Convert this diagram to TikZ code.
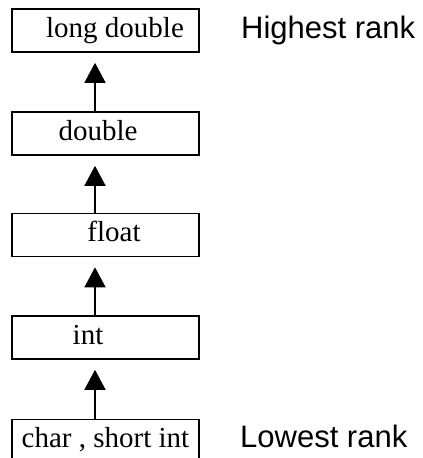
\documentclass[tikz,border=0pt]{standalone}
\usepackage{fontspec}
\setmainfont{Liberation Serif}
\newfontfamily\ranksans{Liberation Sans}
\usepackage{tikz}
\usetikzlibrary{arrows.meta}
\tikzstyle{typebox} = [draw,line width=1.6pt,minimum width=187pt,minimum height=43pt,inner sep=0pt]
\tikzstyle{typename} = [inner sep=0pt,text height=20pt,text depth=7pt,font=\fontsize{29}{34}\selectfont]
\tikzstyle{ranklabel} = [inner sep=0pt,anchor=base west,font=\ranksans\fontsize{31}{36}\selectfont]
\tikzstyle{arrow} = [line width=1.6pt,-{Triangle[width=21pt,length=20pt]}]

\begin{document}
\begin{tikzpicture}[x=1pt,y=-1pt]
\clip (0,0) rectangle (423,458);

\foreach \y/\n/\t/\s in {30.5/ld/long double/9.5, 133.5/db/double/-7.5, 235/fl/float/8.5, 337.5/in/int/-17.5, 441/ch/{char , short int}/0}
{
\node[typebox] (\n) at (105.5,\y) {};
\node[typename] (\n t) at ([xshift=\s]\n.center) {\t};
}

\foreach \a/\b in {db/ld, fl/db, in/fl, ch/in}
{
\draw[arrow] ([xshift=-10.5]\a.north) -- ([xshift=-10.5,yshift=-10]\b.south);
}

\node[ranklabel] (high) at (241,38) {Highest rank};
\node[ranklabel] (low) at (240,447) {Lowest rank};
\end{tikzpicture}
\end{document}
